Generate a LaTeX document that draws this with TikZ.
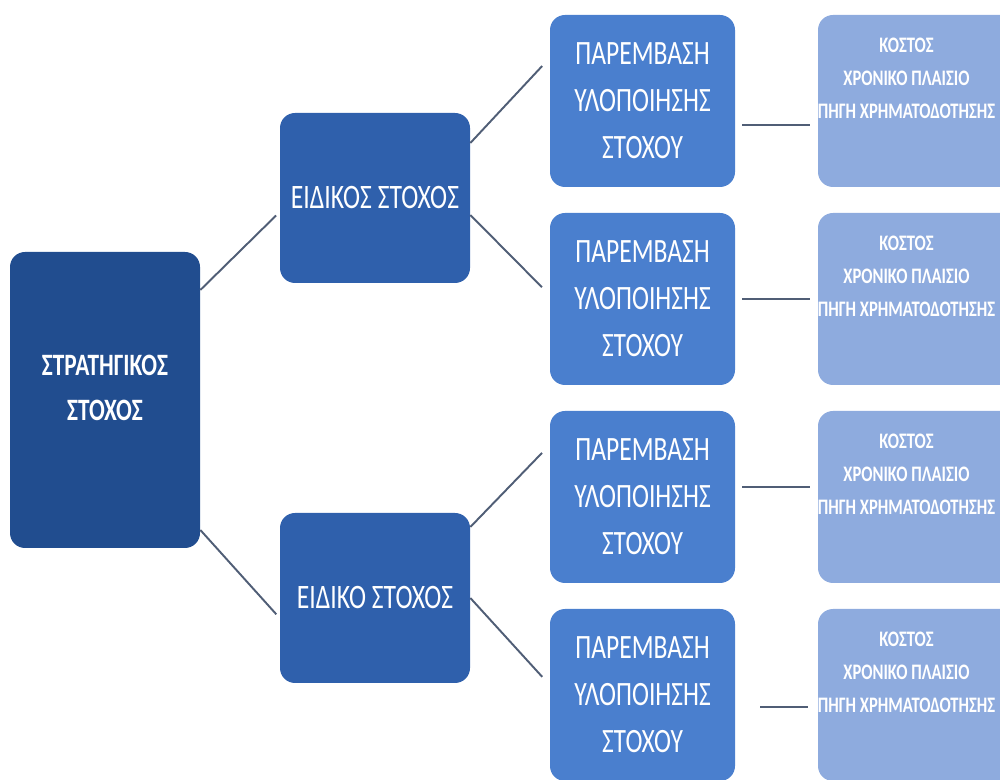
\documentclass[tikz,border=0pt]{standalone}
\usepackage{fontspec}
\setmainfont{Carlito}
\newfontfamily\condfont[FakeStretch=0.75]{Carlito}
\definecolor{rootblue}{RGB}{33,77,143}
\definecolor{midblue}{RGB}{47,96,172}
\definecolor{leafblue}{RGB}{74,127,206}
\definecolor{costblue}{RGB}{142,171,222}
\definecolor{linkgray}{RGB}{80,94,118}
\newcommand{\costlines}{\raisebox{0.34cm}[0pt][0pt]{\makebox[0pt]{\begin{tabular}{@{}c@{}}ΚΟΣΤΟΣ\\ΧΡΟΝΙΚΟ ΠΛΑΙΣΙΟ\\ΠΗΓΗ ΧΡΗΜΑΤΟΔΟΤΗΣΗΣ\end{tabular}\hspace*{0.86cm}}}}
\newcommand{\stratlines}{\raisebox{0.06cm}[0pt][0pt]{\begin{tabular}{@{}c@{}}ΣΤΡΑΤΗΓΙΚΟΣ\\ΣΤΟΧΟΣ\end{tabular}}}
\begin{document}
\begin{tikzpicture}[
    box/.style={rectangle, rounded corners=0.3cm, text=white, align=center, inner sep=0pt},
    rootbox/.style={box, fill=rootblue, minimum width=3.8cm, minimum height=5.92cm,
      font=\condfont\bfseries\fontsize{17.7}{25.5}\selectfont},
    specbox/.style={box, fill=midblue, minimum width=3.8cm, minimum height=3.4cm,
      font=\condfont\fontsize{19.5}{24}\selectfont},
    actbox/.style={box, fill=leafblue, minimum width=3.7cm, minimum height=3.44cm,
      font=\condfont\fontsize{19.4}{26.7}\selectfont},
    costbox/.style={box, fill=costblue, minimum width=4.4cm, minimum height=3.44cm,
      font=\condfont\bfseries\fontsize{12.6}{19}\selectfont},
    link/.style={draw=linkgray, line width=1.1pt}
  ]
  \clip (0,0) rectangle (20,-15.6);
  % strategic goal
  \node[rootbox] (strat) at (2.1,-8.0) {\stratlines};
  % specific goals
  \node[specbox] (spec1) at (7.5,-3.96) {ΕΙΔΙΚΟΣ ΣΤΟΧΟΣ};
  \node[specbox] (spec2) at (7.5,-11.96) {ΕΙΔΙΚΟ ΣΤΟΧΟΣ};
  % interventions
  \node[actbox] (act1) at (12.85,-2.02) {ΠΑΡΕΜΒΑΣΗ\\ΥΛΟΠΟΙΗΣΗΣ\\ΣΤΟΧΟΥ};
  \node[actbox] (act2) at (12.85,-5.98) {ΠΑΡΕΜΒΑΣΗ\\ΥΛΟΠΟΙΗΣΗΣ\\ΣΤΟΧΟΥ};
  \node[actbox] (act3) at (12.85,-9.94) {ΠΑΡΕΜΒΑΣΗ\\ΥΛΟΠΟΙΗΣΗΣ\\ΣΤΟΧΟΥ};
  \node[actbox] (act4) at (12.85,-13.9) {ΠΑΡΕΜΒΑΣΗ\\ΥΛΟΠΟΙΗΣΗΣ\\ΣΤΟΧΟΥ};
  % cost, time frame, funding
  \node[costbox] (cost1) at (18.56,-2.02) {\costlines};
  \node[costbox] (cost2) at (18.56,-5.98) {\costlines};
  \node[costbox] (cost3) at (18.56,-9.94) {\costlines};
  \node[costbox] (cost4) at (18.56,-13.9) {\costlines};
  % links
  \draw[link, shorten >=0.1cm] ([yshift=2.2cm]strat.east) -- ([yshift=-0.28cm]spec1.west);
  \draw[link, shorten >=0.1cm] ([yshift=-2.6cm]strat.east) -- ([yshift=-0.4cm]spec2.west);
  \draw[link, shorten >=0.22cm] ([yshift=1.1cm]spec1.east) -- ([yshift=0.86cm]act1.west);
  \draw[link, shorten >=0.22cm] ([yshift=-0.34cm]spec1.east) -- ([yshift=0.08cm]act2.west);
  \draw[link, shorten >=0.22cm] ([yshift=1.42cm]spec2.east) -- ([yshift=1.04cm]act3.west);
  \draw[link, shorten >=0.22cm] (spec2.east) -- ([yshift=0.2cm]act4.west);
  \draw[link, shorten <=0.14cm, shorten >=0.16cm] ([yshift=-0.48cm]act1.east) -- ([yshift=-0.48cm]cost1.west);
  \draw[link, shorten <=0.14cm, shorten >=0.16cm] (act2.east) -- (cost2.west);
  \draw[link, shorten <=0.14cm, shorten >=0.16cm] ([yshift=0.2cm]act3.east) -- ([yshift=0.2cm]cost3.west);
  \draw[link, shorten <=0.5cm, shorten >=0.2cm] ([yshift=-0.24cm]act4.east) -- ([yshift=-0.24cm]cost4.west);
\end{tikzpicture}
\end{document}
